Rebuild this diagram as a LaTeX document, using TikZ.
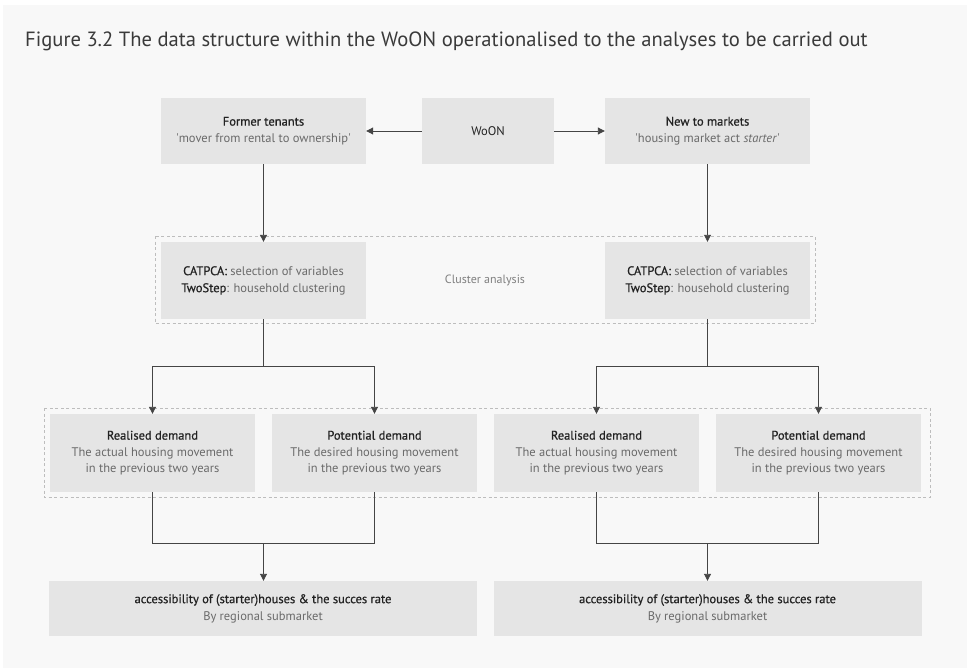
\documentclass[tikz,border=0pt]{standalone}
\usepackage{fontspec}
\setmainfont{PT Sans}
\newfontfamily\medfont[FakeBold=0.7]{PT Sans}
\usetikzlibrary{arrows.meta}
\definecolor{panel}{HTML}{F8F8F8}
\definecolor{boxfill}{HTML}{E5E5E5}
\definecolor{headc}{HTML}{222222}
\definecolor{subc}{HTML}{6A6A6A}
\definecolor{titlec}{HTML}{3A3A3A}
\definecolor{linec}{HTML}{454545}
\definecolor{dashc}{HTML}{BDBDBD}
\newcommand{\headt}[1]{\textcolor{headc}{\medfont #1}}
\newcommand{\subt}[1]{\textcolor{subc}{#1}}
\begin{document}
\begin{tikzpicture}[x=1pt,y=-1pt,
  box/.style={fill=boxfill, draw=none, inner sep=0pt, align=center,
    minimum width=205pt, font=\fontsize{12.5}{17}\selectfont},
  topbox/.style={box, minimum height=66pt},
  catbox/.style={box, minimum height=77pt, font=\fontsize{12.5}{17}\selectfont},
  dembox/.style={box, minimum height=78pt, font=\fontsize{12.5}{16.5}\selectfont},
  accbox/.style={box, minimum width=428pt, minimum height=55pt},
  dashbox/.style={draw=dashc, line width=0.8pt, dash pattern=on 3pt off 2.5pt},
  link/.style={draw=linec, line width=0.9pt},
  arr/.style={link, -{Triangle[length=7pt,width=7pt]}}]
\useasboundingbox (0,0) rectangle (969,669);
\fill[white] (0,0) rectangle (969,669);
\fill[panel] (3,5) rectangle (967,668);

% title
\node[anchor=base west, inner sep=0pt, text=titlec, font=\fontsize{20.6}{24}\selectfont]
  (title) at (25,47) {Figure 3.2 The data structure within the WoON operationalised to the analyses to be carried out};

% dashed group frames
\draw[dashbox] (155,236) rectangle (815,323);
\draw[dashbox] (44,408) rectangle (930,497);

% top row
\node[topbox] (former) at (263.5,131) {\headt{Former tenants}\\\subt{\textquotesingle mover from rental to ownership\textquotesingle}};
\node[topbox, minimum width=132pt] (woon) at (488,131) {\textcolor{headc}{WoON}};
\node[topbox] (newm) at (707.5,131) {\headt{New to markets}\\\subt{\textquotesingle housing market act \textit{starter}\textquotesingle}};

% cluster analysis row
\node[catbox] (catL) at (263.5,280.5) {\headt{CATPCA:} \subt{selection of variables}\\\headt{TwoStep}\subt{: household clustering}};
\node[catbox] (catR) at (707.5,280.5) {\headt{CATPCA:} \subt{selection of variables}\\\headt{TwoStep}\subt{: household clustering}};
\node[text=subc!85, font=\fontsize{12}{14}\selectfont] (clab) at (485,280) {Cluster analysis};

% demand row
\node[dembox] (realL) at (152.5,453) {\headt{Realised demand}\\\subt{The actual housing movement}\\\subt{in the previous two years}};
\node[dembox] (potL) at (374.5,453) {\headt{Potential demand}\\\subt{The desired housing movement}\\\subt{in the previous two years}};
\node[dembox] (realR) at (596.5,453) {\headt{Realised demand}\\\subt{The actual housing movement}\\\subt{in the previous two years}};
\node[dembox] (potR) at (818.5,453) {\headt{Potential demand}\\\subt{The desired housing movement}\\\subt{in the previous two years}};

% accessibility row
\node[accbox] (accL) at (263,608.5) {\headt{accessibility of (starter)houses \& the succes rate}\\\subt{By regional submarket}};
\node[accbox] (accR) at (707.5,608.5) {\headt{accessibility of (starter)houses \& the succes rate}\\\subt{By regional submarket}};

% junction points
\coordinate (jL) at (263.5,366);
\coordinate (jR) at (707.5,366);
\coordinate (kL) at (263.5,543);
\coordinate (kR) at (707.5,543);

% connectors
\draw[arr] (woon) -- (former);
\draw[arr] (woon) -- (newm);
\draw[arr] (former) -- (catL);
\draw[arr] (newm) -- (catR);

\draw[arr] (catL.south) -- (jL) -| (realL.north);
\draw[arr] (jL) -| (potL.north);
\draw[arr] (catR.south) -- (jR) -| (realR.north);
\draw[arr] (jR) -| (potR.north);

\draw[link] (realL.south) |- (kL);
\draw[link] (potL.south) |- (kL);
\draw[arr] (kL) -- (kL |- accL.north);
\draw[link] (realR.south) |- (kR);
\draw[link] (potR.south) |- (kR);
\draw[arr] (kR) -- (kR |- accR.north);
\end{tikzpicture}
\end{document}
